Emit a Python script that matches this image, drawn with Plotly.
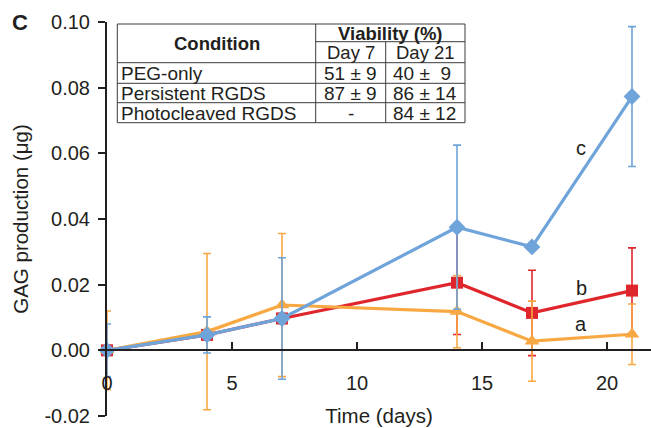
import plotly.graph_objects as go

# ---- data ----
days = [0, 4, 7, 14, 17, 21]
peg_only = [0.0, 0.0057, 0.0138, 0.0118, 0.0028, 0.0049]          # a (orange)
peg_only_err = [0.012, 0.0238, 0.0218, 0.011, 0.0122, 0.0092]
persistent = [0.0, 0.0047, 0.0097, 0.0206, 0.0114, 0.0182]        # b (red)
persistent_err = [0.0015, 0.0015, 0.0015, 0.0158, 0.013, 0.013]
photocleaved = [0.0, 0.0047, 0.0097, 0.0375, 0.0315, 0.0773]      # c (blue)
photocleaved_err = [0.008, 0.0055, 0.0185, 0.025, 0.001, 0.0213]

series_labels = ["a", "b", "c"]
label_y = [0.0079, 0.0189, 0.0615]
label_x = 18.96

conditions = ["PEG-only", "Persistent RGDS", "Photocleaved RGDS"]
viability_day7 = ["51 ± 9", "87 ± 9", "-"]
viability_day21 = ["40 ±  9", "86 ± 14", "84 ± 12"]

x_ticks = [0, 5, 10, 15, 20]
y_ticks = [-0.02, 0.0, 0.02, 0.04, 0.06, 0.08, 0.10]
y_ticklabels = ["-0.02", "0.00", "0.02", "0.04", "0.06", "0.08", "0.10"]

# ---- style ----
FONT = "Liberation Sans, Arial, Helvetica, sans-serif"
TXT = "#231f20"
ORANGE = "#f8a843"
RED = "#e0262d"
BLUE = "#6ea4da"

W, H = 651, 428
ML, MR, MT, MB = 107, 0, 22, 12

fig = go.Figure()

def add_series(y, err, color, symbol, size):
    fig.add_trace(go.Scatter(
        x=days, y=y, mode="lines+markers",
        line=dict(color=color, width=3.2),
        marker=dict(symbol=symbol, size=size, color=color),
        error_y=dict(type="data", array=err, visible=True, color=color, thickness=1.6, width=4),
        cliponaxis=False, showlegend=False, hoverinfo="x+y"))

add_series(persistent, persistent_err, RED, "square", 12)
add_series(peg_only, peg_only_err, ORANGE, "triangle-up", 13)
add_series(photocleaved, photocleaved_err, BLUE, "diamond", 13)

for lab, ly in zip(series_labels, label_y):
    fig.add_annotation(x=label_x, y=ly, text=lab, showarrow=False,
                       font=dict(family=FONT, size=20, color=TXT))

# ---- table (drawn in pixel -> paper coordinates) ----
pw = W - ML - MR
ph = H - MT - MB
def px(x):
    return (x - ML) / pw
def py(y):
    return 1 - (y - MT) / ph

cols = [117.3, 315.7, 385.7, 465]
rows = [24, 41.7, 62.7, 83.3, 102.7, 122.7]
LC = "#3a3a3a"
line = dict(color=LC, width=1)
fig.add_shape(type="rect", xref="paper", yref="paper", x0=px(cols[0]), x1=px(cols[3]),
              y0=py(rows[5]), y1=py(rows[0]), line=line, fillcolor="white", layer="above")
fig.add_shape(type="line", xref="paper", yref="paper", x0=px(cols[1]), x1=px(cols[1]),
              y0=py(rows[0]), y1=py(rows[5]), line=line)
fig.add_shape(type="line", xref="paper", yref="paper", x0=px(cols[2]), x1=px(cols[2]),
              y0=py(rows[1]), y1=py(rows[5]), line=line)
fig.add_shape(type="line", xref="paper", yref="paper", x0=px(cols[1]), x1=px(cols[3]),
              y0=py(rows[1]), y1=py(rows[1]), line=line)
for r in rows[2:5]:
    fig.add_shape(type="line", xref="paper", yref="paper", x0=px(cols[0]), x1=px(cols[3]),
                  y0=py(r), y1=py(r), line=line)

def ann(x, y, text, xanchor="center", bold=False, size=19):
    fig.add_annotation(xref="paper", yref="paper", x=px(x), y=py(y), text=(f"<b>{text}</b>" if bold else text),
                       showarrow=False, xanchor=xanchor, yanchor="middle",
                       font=dict(family=FONT, size=size, color=TXT))

ann((cols[0] + cols[1]) / 2, (rows[0] + rows[2]) / 2, "Condition", bold=True, size=18.5)
ann((cols[1] + cols[3]) / 2, (rows[0] + rows[1]) / 2 + 0.5, "Viability (%)", bold=True, size=18.5)
ann((cols[1] + cols[2]) / 2, (rows[1] + rows[2]) / 2 + 0.5, "Day 7", size=18.5)
ann((cols[2] + cols[3]) / 2, (rows[1] + rows[2]) / 2 + 0.5, "Day 21", size=18.5)
for i, (c, d7, d21) in enumerate(zip(conditions, viability_day7, viability_day21)):
    yc = (rows[2 + i] + rows[3 + i]) / 2 + 0.5
    ann(cols[0] + 2, yc, c, xanchor="left")
    ann((cols[1] + cols[2]) / 2, yc, d7)
    ann(cols[2] + 5, yc, d21.replace("  ", "&nbsp;&nbsp;"), xanchor="left")

# panel letter
fig.add_annotation(xref="paper", yref="paper", x=px(20), y=py(23), text="<b>C</b>", showarrow=False,
                   xanchor="center", yanchor="middle", font=dict(family=FONT, size=22, color=TXT))

ymin, ymax = -0.02, 0.10
fig.update_layout(
    width=W, height=H,
    margin=dict(l=ML, r=MR, t=MT, b=MB),
    paper_bgcolor="white", plot_bgcolor="white",
    font=dict(family=FONT, color=TXT, size=20),
    xaxis=dict(range=[0, (W - ML) / 25.0], tickvals=x_ticks, ticks="inside", ticklen=7,
               tickwidth=1.6, tickcolor=TXT, showline=True, linecolor=TXT, linewidth=2,
               showgrid=False, zeroline=False, anchor="free", position=(0 - ymin) / (ymax - ymin),
               ticklabelstandoff=15, tickfont=dict(size=20, color=TXT),
               title=dict(text="Time (days)", font=dict(size=20.5, color=TXT), standoff=14)),
    yaxis=dict(range=[ymin, ymax], tickvals=y_ticks, ticktext=y_ticklabels, ticks="outside",
               ticklen=7, tickwidth=1.6, tickcolor=TXT, showline=True, linecolor=TXT, linewidth=2,
               showgrid=False, zeroline=False, tickfont=dict(size=20, color=TXT),
               ticklabelstandoff=4,
               title=dict(text="GAG production (μg)", font=dict(size=20.5, color=TXT), standoff=10)),
)

fig.write_html("out.html", config={"displayModeBar": False},
               post_script="document.body.style.margin='0';")
